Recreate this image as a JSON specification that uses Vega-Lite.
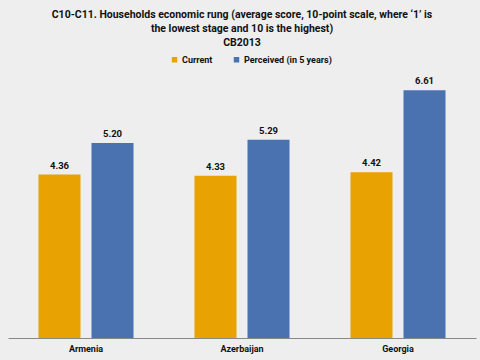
{
  "$schema": "https://vega.github.io/schema/vega-lite/v6.json",
  "autosize": {"type": "none"},
  "width": 468,
  "height": 300,
  "padding": {"top": 38, "left": 8, "right": 4, "bottom": 22},
  "background": "#eeeeee",
  "title": {
    "text": ["C10-C11. Households economic rung (average score, 10-point scale, where ‘1’ is", "the lowest stage and  10 is the highest)", "CB2013"],
    "font": "Roboto",
    "fontSize": 10.5,
    "fontWeight": "bold",
    "color": "#111111",
    "lineHeight": 14,
    "anchor": "middle",
    "offset": -10
  },
  "config": {"view": {"stroke": null}},
  "data": {
    "values": [
      {"country": "Armenia", "series": "Current", "value": 4.36},
      {"country": "Armenia", "series": "Perceived (in 5 years)", "value": 5.20},
      {"country": "Azerbaijan", "series": "Current", "value": 4.33},
      {"country": "Azerbaijan", "series": "Perceived (in 5 years)", "value": 5.29},
      {"country": "Georgia", "series": "Current", "value": 4.42},
      {"country": "Georgia", "series": "Perceived (in 5 years)", "value": 6.61}
    ]
  },
  "encoding": {
    "x": {
      "field": "country", "type": "nominal", "sort": null,
      "scale": {"paddingInner": 0, "paddingOuter": 0},
      "axis": {
        "title": null, "labelAngle": 0, "ticks": false,
        "domainColor": "#888888", "domainWidth": 1,
        "labelFont": "Roboto", "labelFontSize": 9, "labelFontWeight": "bold",
        "labelColor": "#111111", "labelPadding": 6
      }
    },
    "xOffset": {
      "field": "series", "type": "nominal",
      "scale": {"paddingInner": 0.2075, "paddingOuter": 0.575}
    },
    "y": {
      "field": "value", "type": "quantitative",
      "scale": {"domain": [0, 8], "nice": false},
      "axis": null
    }
  },
  "layer": [
    {
      "mark": {"type": "bar"},
      "encoding": {
        "color": {
          "field": "series", "type": "nominal",
          "scale": {"domain": ["Current", "Perceived (in 5 years)"], "range": ["#E8A202", "#4A72B0"]},
          "legend": {
            "title": null, "orient": "none", "direction": "horizontal",
            "legendX": 162, "legendY": 17,
            "symbolType": "square", "symbolSize": 30, "symbolStrokeWidth": 0,
            "labelFont": "Roboto", "labelFontSize": 9, "labelFontWeight": "bold",
            "labelColor": "#111111", "columnPadding": 19, "labelOffset": 3
          }
        }
      }
    },
    {
      "mark": {"type": "text", "dy": -9, "font": "Roboto", "fontSize": 9.5, "fontWeight": "bold", "color": "#111111"},
      "encoding": {
        "text": {"field": "value", "type": "quantitative", "format": ".2f"}
      }
    }
  ]
}
